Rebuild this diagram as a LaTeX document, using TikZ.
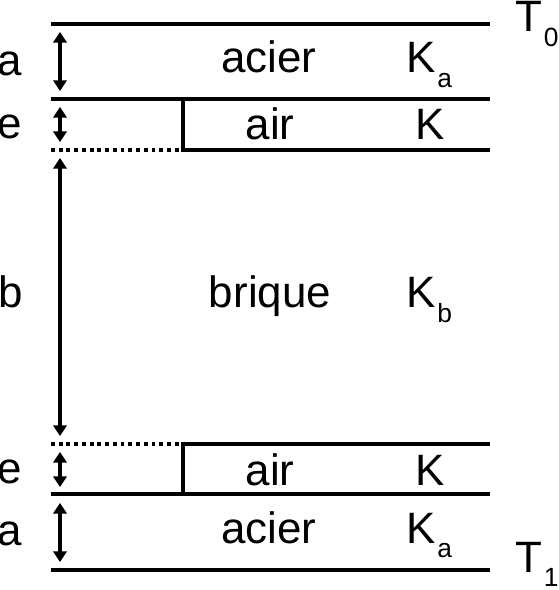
\documentclass[tikz,border=0pt]{standalone}
\usepackage{fontspec}
\setmainfont{Liberation Sans}
\usetikzlibrary{arrows.meta}

\newcommand{\idx}[1]{\kern1pt\raisebox{-8.5pt}{\fontsize{15}{18}\selectfont #1}}

\begin{document}
\begin{tikzpicture}[x=0.02cm,y=-0.02cm,
    wall/.style={line width=2.2pt},
    gap/.style={line width=2pt, dash pattern=on 2.2pt off 2.2pt},
    dim/.style={{Triangle[length=6pt,width=7.5pt]}-{Triangle[length=6pt,width=7.5pt]}, line width=2pt},
    txt/.style={anchor=base, inner sep=0pt, font=\fontsize{25}{30}\selectfont},
    kval/.style={txt, anchor=base west}]
    \useasboundingbox (0,0) rectangle (558,590);

    % layer boundaries
    \coordinate (t0l) at (51,24);  \coordinate (t0r) at (490,24);
    \coordinate (s1l) at (51,99);  \coordinate (s1r) at (490,99);
    \coordinate (a1l) at (51,150); \coordinate (a1m) at (183,150); \coordinate (a1r) at (490,150);
    \coordinate (a1t) at (183,99);
    \coordinate (a2l) at (51,444); \coordinate (a2m) at (183,444); \coordinate (a2r) at (490,444);
    \coordinate (a2b) at (183,494);
    \coordinate (s2l) at (51,494); \coordinate (s2r) at (490,494);
    \coordinate (t1l) at (51,570); \coordinate (t1r) at (490,570);

    \draw[wall] (t0l) -- (t0r);
    \draw[wall] (s1l) -- (s1r);
    \draw[wall] (a1t) -- (a1m) -- (a1r);
    \draw[gap] (a1l) -- (a1m);
    \draw[gap] (a2l) -- (a2m);
    \draw[wall] (a2r) -- (a2m) -- (a2b);
    \draw[wall] (s2l) -- (s2r);
    \draw[wall] (t1l) -- (t1r);

    % thicknesses
    \coordinate (da1) at (60,32);  \coordinate (da2) at (60,91);
    \coordinate (de1) at (60,107); \coordinate (de2) at (60,142);
    \coordinate (db1) at (60,158); \coordinate (db2) at (60,436);
    \coordinate (df1) at (60,452); \coordinate (df2) at (60,487);
    \coordinate (dg1) at (60,503); \coordinate (dg2) at (60,562);

    \draw[dim] (da1) -- (da2);
    \draw[dim] (de1) -- (de2);
    \draw[dim] (db1) -- (db2);
    \draw[dim] (df1) -- (df2);
    \draw[dim] (dg1) -- (dg2);

    \node[txt] (la1) at (10,76) {a};
    \node[txt] (le1) at (10,139) {e};
    \node[txt] (lb)  at (11,308) {b};
    \node[txt] (le2) at (10,483) {e};
    \node[txt] (la2) at (10,545) {a};

    % materials
    \node[txt] (acier1) at (269,73) {acier};
    \node[txt] (air1)   at (270,140) {air};
    \node[txt] (brique) at (270,308) {brique};
    \node[txt] (air2)   at (270,485) {air};
    \node[txt] (acier2) at (269,543) {acier};

    \node[kval] (ka1) at (406,73)  {K\idx{a}};
    \node[kval] (k1)  at (415,140) {K};
    \node[kval] (kb)  at (406,308) {K\idx{b}};
    \node[kval] (k2)  at (415,485) {K};
    \node[kval] (ka2) at (406,543) {K\idx{a}};

    % temperatures
    \node[kval] (T0) at (515,32)  {T\idx{0}};
    \node[kval] (T1) at (515,572) {T\idx{1}};
\end{tikzpicture}
\end{document}
